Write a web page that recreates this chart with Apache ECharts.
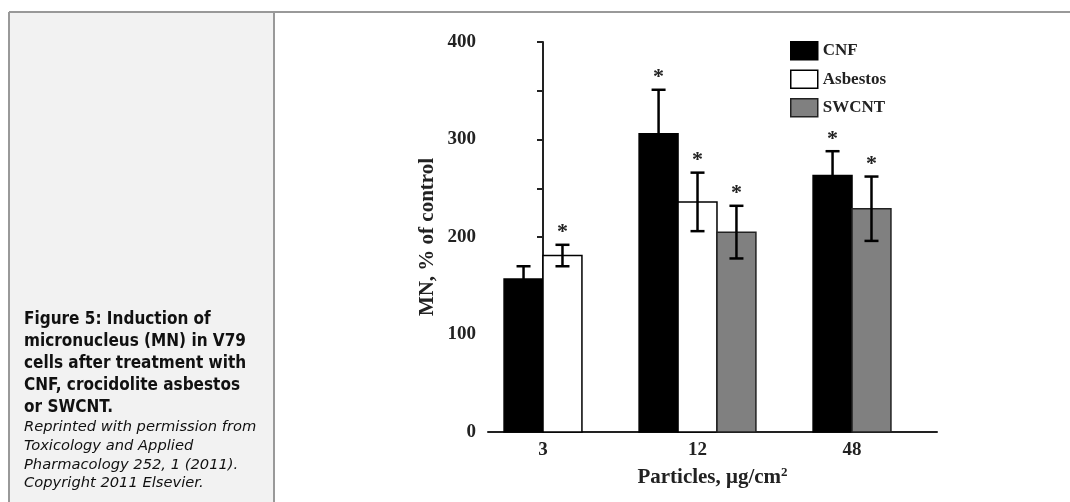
<!DOCTYPE html>
<html>
<head>
<meta charset="utf-8">
<script src="https://cdn.jsdelivr.net/npm/echarts@6/dist/echarts.min.js"></script>
<style>
  html, body { margin: 0; padding: 0; background: #fff; }
  #main { width: 1070px; height: 502px; }
</style>
</head>
<body>
<div id="main"></div>
<script>
// doses (x categories)
var categories = ['3', '12', '48'];
// MN, % of control, mean and SD per particle type (null = not tested)
var cnf = [157, 306, 263];
var cnfErr = [13, 45, 25];
var asbestos = [181, 236, null];
var asbestosErr = [11, 30, null];
var swcnt = [null, 205, 229];
var swcntErr = [null, 27, 33];
// significance stars
var cnfSig = [0, 1, 1];
var asbestosSig = [1, 1, 0];
var swcntSig = [0, 1, 1];
var yTicks = [0, 100, 200, 300, 400];

var groups = [cnf, asbestos, swcnt];
var serif = '"Liberation Serif", "Times New Roman", serif';

function barSeries(name, idx, values, errs, sigs, fill, border) {
  var data = [];
  categories.forEach(function (c, i) {
    if (values[i] != null) data.push([i, values[i], errs[i], sigs[i]]);
  });
  return {
    type: 'custom',
    name: name,
    itemStyle: { color: fill, borderColor: border, borderWidth: 1.5 },
    encode: { x: 0, y: 1 },
    data: data,
    renderItem: function (params, api) {
      var i = api.value(0), v = api.value(1), e = api.value(2), s = api.value(3);
      // bars present at this dose are centred on the tick
      var present = [];
      groups.forEach(function (g, k) { if (g[i] != null) present.push(k); });
      var k = present.indexOf(idx), n = present.length;
      var barW = api.size([1, 0])[0] * 0.252;
      var base = api.coord([i, 0]);
      var x0 = base[0] + (k - n / 2) * barW;
      var top = api.coord([i, v])[1];
      var hi = api.coord([i, v + e])[1];
      var lo = api.coord([i, v - e])[1];
      var xm = x0 + barW / 2;
      var line = { stroke: '#000', lineWidth: 2.5 };
      var kids = [
        { type: 'rect', shape: { x: x0, y: top, width: barW, height: base[1] - top }, style: api.style() },
        { type: 'line', shape: { x1: xm, y1: hi, x2: xm, y2: lo }, style: line },
        { type: 'line', shape: { x1: xm - 7, y1: hi, x2: xm + 7, y2: hi }, style: line },
        { type: 'line', shape: { x1: xm - 7, y1: lo, x2: xm + 7, y2: lo }, style: line }
      ];
      if (s) {
        kids.push({ type: 'text', style: { text: '*', x: xm, y: hi - 12, align: 'center', verticalAlign: 'middle',
          font: 'bold 22px ' + serif, fill: '#222' } });
      }
      return { type: 'group', children: kids };
    }
  };
}

var captionMain = ['Figure 5: Induction of', 'micronucleus (MN) in V79', 'cells after treatment with',
  'CNF, crocidolite asbestos', 'or SWCNT.'].join('\n');
var captionSrc = ['Reprinted with permission from', 'Toxicology and Applied',
  'Pharmacology 252, 1 (2011).', 'Copyright 2011 Elsevier.'].join('\n');

var option = {
  animation: false,
  backgroundColor: '#fff',
  graphic: [
    { type: 'rect', z: -5, shape: { x: 10, y: 13, width: 263, height: 489 }, style: { fill: '#f2f2f2' } },
    { type: 'line', z: -3, shape: { x1: 9, y1: 12, x2: 1070, y2: 12 }, style: { stroke: '#999', lineWidth: 2 } },
    { type: 'line', z: -3, shape: { x1: 9, y1: 12, x2: 9, y2: 502 }, style: { stroke: '#999', lineWidth: 2 } },
    { type: 'line', z: -3, shape: { x1: 274, y1: 12, x2: 274, y2: 502 }, style: { stroke: '#999', lineWidth: 2 } },
    { type: 'text', z: 10, left: 24, top: 309,
      style: { text: captionMain, font: 'bold 17px "DejaVu Sans Condensed", "DejaVu Sans", sans-serif',
        lineHeight: 22, fill: '#111' } },
    { type: 'text', z: 10, left: 24, top: 418,
      style: { text: captionSrc, font: 'italic 14.7px "DejaVu Sans", sans-serif', lineHeight: 18.7, fill: '#111' } }
  ],
  legend: {
    orient: 'vertical',
    left: 790,
    top: 41,
    padding: 0,
    itemWidth: 27,
    itemHeight: 18,
    itemGap: 9,
    selectedMode: false,
    textStyle: { fontFamily: serif, fontWeight: 'bold', fontSize: 17, color: '#222' },
    data: [
      { name: 'CNF', icon: 'rect', itemStyle: { color: '#000', borderColor: '#000', borderWidth: 1.5 } },
      { name: 'Asbestos', icon: 'rect', itemStyle: { color: '#fff', borderColor: '#000', borderWidth: 1.5 } },
      { name: 'SWCNT', icon: 'rect', itemStyle: { color: '#808080', borderColor: '#222', borderWidth: 1.5 } }
    ]
  },
  grid: { left: 488, top: 42, right: 133, bottom: 70, containLabel: false },
  xAxis: {
    type: 'value',
    min: -0.356,
    max: 2.55,
    splitLine: { show: false },
    axisTick: { show: false },
    axisLine: { show: true, lineStyle: { color: '#222', width: 2 } },
    axisLabel: {
      customValues: [0, 1, 2],
      formatter: function (v) { return categories[Math.round(v)]; },
      margin: 9,
      fontFamily: serif, fontWeight: 'bold', fontSize: 19, color: '#222'
    },
    name: '{a|Particles, μg/cm}{s|2}',
    nameLocation: 'middle',
    nameGap: 34,
    nameTextStyle: {
      rich: {
        a: { fontFamily: serif, fontWeight: 'bold', fontSize: 21, color: '#222' },
        s: { fontFamily: serif, fontWeight: 'bold', fontSize: 13, color: '#222', verticalAlign: 'top', padding: [0, 0, 10, 0] }
      }
    }
  },
  yAxis: {
    type: 'value',
    min: 0,
    max: 400,
    interval: 50,
    splitLine: { show: false },
    axisLine: { show: true, lineStyle: { color: '#222', width: 2 } },
    axisTick: { show: true, length: 6, lineStyle: { color: '#222', width: 2 } },
    axisLabel: {
      margin: 12,
      formatter: function (v) { return yTicks.indexOf(v) >= 0 ? String(v) : ''; },
      fontFamily: serif, fontWeight: 'bold', fontSize: 19, color: '#222'
    },
    name: 'MN, % of control',
    nameLocation: 'middle',
    nameGap: 50,
    nameTextStyle: { fontFamily: serif, fontWeight: 'bold', fontSize: 21, color: '#222' }
  },
  series: [
    barSeries('CNF', 0, cnf, cnfErr, cnfSig, '#000', '#000'),
    barSeries('Asbestos', 1, asbestos, asbestosErr, asbestosSig, '#fff', '#000'),
    barSeries('SWCNT', 2, swcnt, swcntErr, swcntSig, '#808080', '#222')
  ]
};

var myChart = echarts.init(document.getElementById('main'));
myChart.setOption(option);
</script>
</body>
</html>
